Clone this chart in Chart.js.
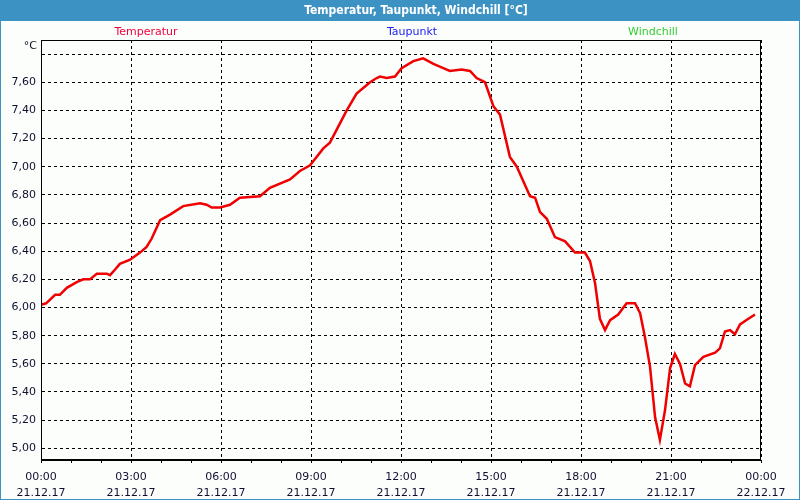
<!DOCTYPE html>
<html>
<head>
<meta charset="utf-8">
<title>Temperatur, Taupunkt, Windchill</title>
<script src="https://cdn.jsdelivr.net/npm/chart.js@4.4.1/dist/chart.umd.min.js"></script>
<style>
  html, body { margin: 0; padding: 0; background: #fcfefc; }
  #wrap { position: relative; width: 800px; height: 500px; }
</style>
</head>
<body>
<div id="wrap"><canvas id="temp-chart" width="800" height="500"></canvas></div>
<script>
  "use strict";

  // Data (hours since 21.12.17 00:00, °C)
  var hours = [0, 0.17, 0.47, 0.63, 0.86, 1.19, 1.41, 1.63, 1.86, 2.19, 2.3, 2.47, 2.63, 2.97,
    3.3, 3.52, 3.69, 3.97, 4.3, 4.74, 5.3, 5.52, 5.69, 5.97, 6.3, 6.63, 7.3, 7.63, 8.3, 8.63,
    8.97, 9.41, 9.63, 9.8, 10.19, 10.52, 10.97, 11.19, 11.3, 11.52, 11.8, 12.02, 12.41, 12.74,
    13.08, 13.41, 13.63, 14.02, 14.3, 14.52, 14.8, 15.08, 15.3, 15.63, 15.86, 16.3, 16.47,
    16.63, 16.86, 17.13, 17.47, 17.8, 18.13, 18.3, 18.47, 18.63, 18.8, 18.97, 19.24, 19.52,
    19.8, 19.97, 20.13, 20.3, 20.47, 20.63, 20.8, 20.97, 21.13, 21.3, 21.47, 21.63, 21.8,
    22.08, 22.47, 22.63, 22.8, 22.97, 23.13, 23.3, 23.58, 23.8];
  var temperatur = [6.02, 6.03, 6.09, 6.09, 6.14, 6.18, 6.20, 6.20, 6.24, 6.24, 6.23, 6.27, 6.31, 6.34,
    6.39, 6.43, 6.49, 6.62, 6.66, 6.72, 6.74, 6.73, 6.71, 6.71, 6.73, 6.78, 6.79, 6.85, 6.91, 6.97,
    7.01, 7.13, 7.17, 7.24, 7.40, 7.52, 7.60, 7.63, 7.64, 7.63, 7.64, 7.70, 7.75, 7.77,
    7.73, 7.70, 7.68, 7.69, 7.68, 7.63, 7.60, 7.43, 7.37, 7.07, 7.00, 6.79, 6.78,
    6.68, 6.63, 6.50, 6.47, 6.39, 6.39, 6.33, 6.17, 5.92, 5.84, 5.91, 5.95, 6.03,
    6.03, 5.96, 5.79, 5.58, 5.22, 5.06, 5.27, 5.57, 5.67, 5.60, 5.46, 5.44, 5.59,
    5.65, 5.68, 5.71, 5.83, 5.84, 5.81, 5.88, 5.92, 5.95];
  var seriesNames = ["Temperatur", "Taupunkt", "Windchill"];
  var seriesColors = ["#f5003c", "#2020ee", "#33cc33"];
  var xTickTimes = ["00:00", "03:00", "06:00", "09:00", "12:00", "15:00", "18:00", "21:00", "00:00"];
  var xTickDates = ["21.12.17", "21.12.17", "21.12.17", "21.12.17", "21.12.17", "21.12.17", "21.12.17", "21.12.17", "22.12.17"];

  var points = hours.map(function (h, i) {
    return { x: h, y: temperatur[i] };
  });

  var labelFont = { family: "Tahoma, 'DejaVu Sans', sans-serif", size: 11, lineHeight: 1.45 };

  // Window frame, title bar, legend texts, unit and plot border
  var framePlugin = {
    id: "frame",
    beforeDraw: function (chart) {
      var ctx = chart.ctx;
      ctx.save();
      ctx.fillStyle = "#fcfefc";
      ctx.fillRect(0, 0, 800, 500);
      ctx.fillStyle = "#3d92c4";
      ctx.fillRect(0, 0, 800, 21);
      ctx.fillRect(0, 0, 1, 500);
      ctx.fillRect(799, 0, 1, 500);
      ctx.fillRect(0, 499, 800, 1);
      ctx.fillStyle = "#ffffff";
      ctx.font = "bold 12px 'DejaVu Sans Condensed', 'Liberation Sans', sans-serif";
      ctx.textAlign = "center";
      ctx.textBaseline = "middle";
      ctx.fillText("Temperatur, Taupunkt, Windchill [°C]", 416, 11);

      ctx.font = "11px Tahoma, 'DejaVu Sans', sans-serif";
      var legendX = [146, 412, 653];
      seriesNames.forEach(function (name, i) {
        ctx.fillStyle = seriesColors[i];
        ctx.fillText(name, legendX[i], 32);
      });
      ctx.fillStyle = "#101020";
      ctx.textAlign = "right";
      ctx.fillText("°C", 37, 46);
      ctx.restore();
    },
    afterDraw: function (chart) {
      var a = chart.chartArea;
      var ctx = chart.ctx;
      ctx.save();
      ctx.strokeStyle = "#000000";
      ctx.lineWidth = 1;
      ctx.strokeRect(Math.round(a.left) + 0.5, Math.round(a.top) + 0.5,
        Math.round(a.right - a.left) - 1, Math.round(a.bottom - a.top) - 1);
      ctx.restore();
    },
  };

  var ctx1 = document.getElementById("temp-chart").getContext("2d");
  var myChart1 = new Chart(ctx1, {
    type: "line",
    data: {
      datasets: [
        {
          label: seriesNames[0],
          data: points,
          borderColor: "#f00000",
          borderWidth: 2.5,
          pointRadius: 0,
          tension: 0,
          fill: false,
        },
      ],
    },
    options: {
      responsive: false,
      animation: false,
      layout: { padding: { top: 40, right: 39, left: 0, bottom: 0 } },
      plugins: {
        legend: { display: false },
        tooltip: { enabled: false },
      },
      scales: {
        x: {
          type: "linear",
          min: 0,
          max: 24,
          afterFit: function (scale) { scale.height = 40; },
          afterBuildTicks: function (scale) {
            var t = [];
            for (var h = 0; h <= 24; h++) t.push({ value: h });
            scale.ticks = t;
          },
          ticks: {
            autoSkip: false,
            maxRotation: 0,
            padding: 6,
            color: "#101030",
            font: labelFont,
            callback: function (v) {
              if (v % 3 !== 0) return "";
              return [xTickTimes[v / 3], xTickDates[v / 3]];
            },
          },
          grid: {
            color: function (c) {
              return c.tick && c.tick.value % 3 === 0 ? "#000000" : "rgba(0,0,0,0)";
            },
            tickColor: "#000000",
            tickLength: 3,
            lineWidth: 1,
          },
          border: { display: true, color: "#000000", dash: [3, 3] },
        },
        y: {
          min: 4.917,
          max: 7.9,
          afterFit: function (scale) { scale.width = 41; },
          ticks: {
            stepSize: 0.2,
            includeBounds: false,
            padding: 5,
            color: "#101030",
            font: labelFont,
            callback: function (v) {
              if (Math.abs(v - 7.8) < 0.001) return "";
              return v.toFixed(2).replace(".", ",");
            },
          },
          grid: {
            color: "#000000",
            lineWidth: 1,
            drawTicks: false,
          },
          border: { display: true, color: "#000000", dash: [3, 3] },
        },
      },
    },
    plugins: [framePlugin],
  });
</script>
</body>
</html>
